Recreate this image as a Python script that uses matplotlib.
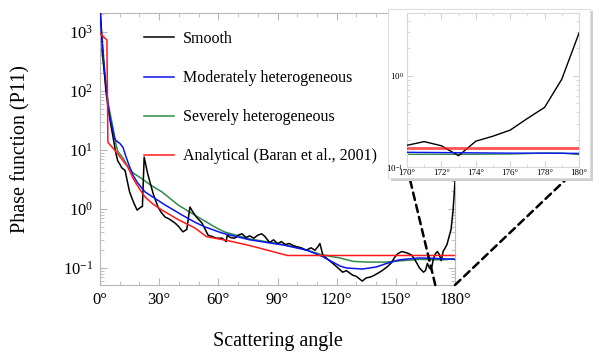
import numpy as np
import matplotlib
matplotlib.use("Agg")
import matplotlib.pyplot as plt
from matplotlib.patches import Rectangle, ConnectionPatch
from matplotlib.ticker import FixedLocator, LogLocator, NullFormatter, MultipleLocator

plt.rcParams['font.family'] = ['Liberation Serif', 'DejaVu Serif']
plt.rcParams['mathtext.fontset'] = 'custom'
plt.rcParams['mathtext.rm'] = 'Liberation Serif'
plt.rcParams['mathtext.it'] = 'Liberation Serif:italic'

# ---------------- data ----------------
smooth_angle = [0, 0.5, 1, 2, 3, 4, 5, 6.6, 8, 9, 10, 11, 12.7, 14, 15, 17, 18.8, 20.8, 21.5, 22.4,
                24, 25.4, 27, 29.4, 31, 33, 35, 38, 40, 42, 44, 45.6, 47, 49, 51.7, 54.8, 57, 59,
                61.9, 63, 64, 64.5, 66, 68, 69, 70, 72, 74, 76, 78, 80, 82, 83.7, 86, 88, 90, 92,
                94, 96, 98, 99.6, 102, 104.6, 107, 109, 110.5, 111.5, 113, 115, 118, 120, 123, 125,
                128, 130, 133, 135, 137, 139, 141, 143, 145.5, 147.5, 149.6, 151, 153, 155.7, 158,
                159.5, 160.7, 162, 164, 165, 166, 167, 168, 169,
                170, 171, 172, 173, 174, 175, 176, 177, 178, 179, 180]
smooth_p11 = [3000, 1500, 700, 250, 100, 55, 33, 16.6, 9, 6.5, 5.8, 5.0, 4.5, 2.8, 1.95, 1.3, 0.96, 1.08, 1.1, 7.6,
              4.2, 2.8, 1.8, 1.08, 0.88, 0.73, 0.68, 0.58, 0.5, 0.41, 0.45, 1.08, 0.9, 0.72, 0.58, 0.36, 0.34, 0.32,
              0.32, 0.30, 0.28, 0.36, 0.33, 0.32, 0.33, 0.36, 0.38, 0.33, 0.35, 0.32, 0.36, 0.38, 0.34, 0.27, 0.30, 0.26, 0.28,
              0.25, 0.26, 0.24, 0.23, 0.22, 0.20, 0.22, 0.20, 0.23, 0.26, 0.166, 0.145, 0.12, 0.105, 0.085, 0.09,
              0.076, 0.072, 0.06, 0.068, 0.07, 0.075, 0.082, 0.09, 0.104, 0.12, 0.155, 0.175, 0.19, 0.18, 0.166,
              0.14, 0.12, 0.10, 0.085, 0.09, 0.12, 0.10, 0.095, 0.14,
              0.173, 0.19, 0.171, 0.133, 0.192, 0.218, 0.254, 0.341, 0.451, 0.92, 2.95]

moderate_angle = [0, 1, 2, 3, 4, 5, 7.6, 9, 10, 11.7, 13, 15, 17, 19, 22.8, 28, 33, 41.6, 48, 53, 62, 76,
                  93, 105, 113, 118, 121.7, 125, 133, 140, 145.5, 152, 162, 170, 172, 174, 176, 178, 180]
moderate_p11 = [2000, 800, 300, 130, 65, 36, 15, 13.7, 13, 11, 8, 5.2, 3.6, 2.8, 1.95, 1.5, 1.17, 0.79, 0.6, 0.5,
                0.39, 0.30, 0.245, 0.20, 0.155, 0.126, 0.108, 0.10, 0.096, 0.104, 0.12, 0.138, 0.148, 0.145,
                0.144, 0.143, 0.142, 0.142, 0.141]

severe_angle = [0, 1, 2.5, 4, 6, 8, 9, 11.7, 14, 16.7, 21, 26, 31.4, 39.6, 48, 58, 63, 76, 90, 101, 113, 118,
                121.7, 128, 135, 145, 152, 162, 170, 172, 174, 176, 178, 179, 180]
severe_p11 = [650, 440, 172, 63, 30, 13, 9.5, 7.3, 5.3, 4.1, 3.3, 2.5, 1.95, 1.17, 0.79, 0.5, 0.41, 0.31, 0.26,
              0.22, 0.166, 0.155, 0.148, 0.13, 0.126, 0.126, 0.132, 0.14, 0.138, 0.138, 0.138, 0.139, 0.142,
              0.142, 0.137]

analytic_angle = [0, 3.5, 4, 8, 11, 14, 17, 20, 22.8, 27, 31.4, 40, 48, 54, 65, 76, 95, 180]
analytic_p11 = [950, 730, 13.5, 9.5, 7, 5.2, 3.2, 2.2, 1.6, 1.2, 0.96, 0.65, 0.48, 0.34, 0.29, 0.24, 0.163, 0.163]

labels = ["Smooth", "Moderately heterogeneous", "Severely heterogeneous",
          "Analytical (Baran et al., 2001)"]
colors = ["black", "#0a14f0", "#2e8b47", "#ff1a1a"]

main_xticks = [0, 30, 60, 90, 120, 150, 180]
main_xticklabels = ["0°", "30°", "60°", "90°", "120°", "150°", "180°"]
inset_xticks = [170, 172, 174, 176, 178, 180]
inset_xticklabels = ["170°", "172°", "174°", "176°", "178°", "180°"]

# ---------------- figure ----------------
fig = plt.figure(figsize=(6.0, 3.58), dpi=100)
spine_col = "#b8b8b8"

ax = fig.add_axes([100/600, 1-285/358, 355/600, 272/358])
series = [(smooth_angle, smooth_p11), (moderate_angle, moderate_p11),
          (severe_angle, severe_p11), (analytic_angle, analytic_p11)]
order = [2, 1, 0, 3]
zs = {0: 3, 1: 4, 2: 2, 3: 5}
handles = [None]*4
for i in order:
    a, p = series[i]
    h, = ax.plot(a, p, color=colors[i], lw=1.1, label=labels[i], zorder=zs[i])
    handles[i] = h

ax.set_yscale('log')
ax.set_xlim(0, 180)
ax.set_ylim(0.0515, 2100)
ax.xaxis.set_major_locator(FixedLocator(main_xticks))
ax.set_xticklabels(main_xticklabels, fontsize=12)
ax.xaxis.set_minor_locator(MultipleLocator(10))
ax.yaxis.set_major_locator(LogLocator(base=10, numticks=10))
ax.yaxis.set_minor_locator(LogLocator(base=10, subs=np.arange(2, 10), numticks=20))
ax.yaxis.set_minor_formatter(NullFormatter())
ax.tick_params(which='both', direction='in', top=True, right=True, color=spine_col,
               labelsize=12, pad=5)
ax.tick_params(which='major', length=5)
ax.tick_params(which='minor', length=3)
for s in ax.spines.values():
    s.set_color(spine_col)
ax.set_xlabel("Scattering angle", fontsize=14.5, labelpad=17)
ax.set_ylabel("Phase function (P11)", fontsize=14.5, labelpad=23)

leg = fig.legend(handles=handles, labels=labels, loc='upper left',
                 bbox_to_anchor=(136/600, 1-23/358), frameon=False, fontsize=11.5,
                 handlelength=1.85, handletextpad=0.6, labelspacing=1.45, borderpad=0)

# inset frame with shadow
fig.patches.append(Rectangle((391/600, 1-181/358), 202/600, 170/358, transform=fig.transFigure,
                             facecolor="#cfcfcf", edgecolor='none', zorder=6))
fig.patches.append(Rectangle((388/600, 1-178/358), 202/600, 169/358, transform=fig.transFigure,
                             facecolor="white", edgecolor="#dddddd", lw=0.8, zorder=7))

# connectors
con1 = ConnectionPatch(xyA=(170, 0.0515), coordsA=ax.transData,
                       xyB=(407/600, 1-167/358), coordsB=fig.transFigure,
                       color='black', lw=1.8, ls=(0, (3, 2)), zorder=5)
con2 = ConnectionPatch(xyA=(180, 0.0515), coordsA=ax.transData,
                       xyB=(579/600, 1-167/358), coordsB=fig.transFigure,
                       color='black', lw=1.8, ls=(0, (3, 2)), zorder=5)
fig.add_artist(con1)
fig.add_artist(con2)

axi = fig.add_axes([407/600, 1-167/358, 172/600, 154/358], zorder=10)
for i in order:
    a, p = series[i]
    axi.plot(a, p, color=colors[i], lw=2.0 if i == 3 else 1.0, zorder=zs[i],
             alpha=0.75 if i == 3 else 1.0)
axi.set_yscale('log')
axi.set_xlim(170, 180)
axi.set_ylim(0.1, 4.9)
axi.xaxis.set_major_locator(FixedLocator(inset_xticks))
axi.set_xticklabels(inset_xticklabels, fontsize=6.5)
axi.xaxis.set_minor_locator(MultipleLocator(1))
axi.yaxis.set_major_locator(LogLocator(base=10, numticks=10))
axi.yaxis.set_minor_locator(LogLocator(base=10, subs=np.arange(2, 10), numticks=20))
axi.yaxis.set_minor_formatter(NullFormatter())
axi.tick_params(which='both', direction='in', top=True, right=True, color="#d0d0d0",
                labelsize=6.5, pad=1.5)
axi.tick_params(axis='y', pad=2.5)
axi.tick_params(which='major', length=4)
axi.tick_params(which='minor', length=2)
for s in axi.spines.values():
    s.set_color("#d8d8d8")

fig.savefig("out.png", dpi=100)
